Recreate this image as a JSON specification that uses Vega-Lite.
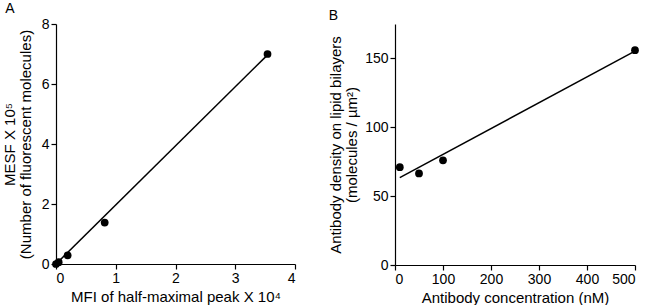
{
  "$schema": "https://vega.github.io/schema/vega-lite/v6.json",
  "background": "white",
  "padding": {"left": 2, "top": 2, "right": 0, "bottom": 0},
  "config": {
    "view": {"stroke": null},
    "font": "Liberation Sans",
    "axis": {
      "grid": false,
      "domainColor": "black",
      "domainWidth": 1.2,
      "tickColor": "black",
      "tickWidth": 1.2,
      "tickSize": 5,
      "labelPadding": 2,
      "labelColor": "black",
      "labelFontSize": 14,
      "labelFont": "Liberation Sans",
      "titleFont": "Liberation Sans",
      "titleFontSize": 15,
      "titleFontWeight": "normal",
      "titleColor": "black",
      "titleLineHeight": 16
    },
    "title": {"font": "Liberation Sans", "fontSize": 14, "fontWeight": "normal", "color": "black", "anchor": "start", "offset": 1}
  },
  "datasets": {
    "a_pts": [
      {"x": 0.0, "y": 0.0},
      {"x": 0.045, "y": 0.06},
      {"x": 0.195, "y": 0.29},
      {"x": 0.815, "y": 1.38},
      {"x": 3.54, "y": 7.0}
    ],
    "a_fit": [
      {"x": 0.0, "y": 0.0},
      {"x": 3.52, "y": 6.93}
    ],
    "b_pts": [
      {"x": 10, "y": 71},
      {"x": 50, "y": 66.5},
      {"x": 100, "y": 76},
      {"x": 500, "y": 156}
    ],
    "b_fit": [
      {"x": 10, "y": 63.5},
      {"x": 495, "y": 154.4}
    ]
  },
  "hconcat": [
    {
      "title": {"text": "A", "dx": 3},
      "width": 239,
      "height": 240,
      "encoding": {
        "x": {"field": "x", "type": "quantitative", "scale": {"domain": [0, 4], "nice": false, "zero": false}, "axis": {"values": [0, 1, 2, 3, 4], "format": "d", "title": "MFI of half-maximal peak X 10⁴", "titlePadding": 4}},
        "y": {"field": "y", "type": "quantitative", "scale": {"domain": [0, 8], "nice": false, "zero": false}, "axis": {"values": [0, 2, 4, 6, 8], "format": "d", "title": ["MESF X 10⁵", "(Number of fluorescent molecules)"], "titlePadding": 8}}
      },
      "layer": [
        {
          "data": {"name": "a_fit"},
          "mark": {"type": "line", "color": "black", "strokeWidth": 1.5, "clip": false}
        },
        {
          "data": {"name": "a_pts"},
          "mark": {"type": "circle", "color": "black", "opacity": 1, "size": 60, "clip": false}
        }
      ]
    },
    {
      "title": {"text": "B", "dx": 0},
      "width": 240,
      "height": 241,
      "encoding": {
        "x": {"field": "x", "type": "quantitative", "scale": {"domain": [0, 500], "nice": false, "zero": false}, "axis": {"values": [0, 100, 200, 300, 400, 500], "format": "d", "title": "Antibody concentration (nM)", "titlePadding": 4}},
        "y": {"field": "y", "type": "quantitative", "scale": {"domain": [0, 175], "nice": false, "zero": false}, "axis": {"values": [0, 50, 100, 150], "format": "d", "title": ["Antibody density on lipid bilayers", "(molecules / µm²)"], "titlePadding": 5}}
      },
      "layer": [
        {
          "data": {"name": "b_fit"},
          "mark": {"type": "line", "color": "black", "strokeWidth": 1.5, "clip": false}
        },
        {
          "data": {"name": "b_pts"},
          "mark": {"type": "circle", "color": "black", "opacity": 1, "size": 60, "clip": false}
        }
      ]
    }
  ],
  "spacing": 32
}
